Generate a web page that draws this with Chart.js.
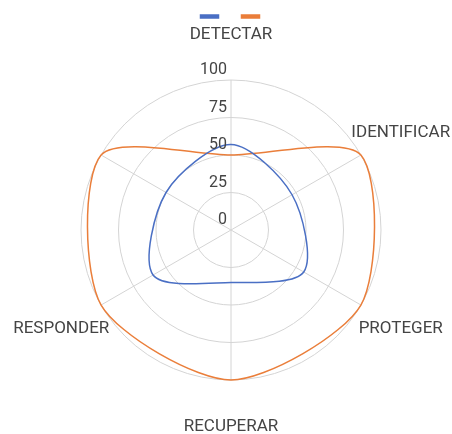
<!DOCTYPE html>
<html>
<head>
<meta charset="utf-8">
<script src="https://cdn.jsdelivr.net/npm/chart.js@4.4.1/dist/chart.umd.min.js"></script>
<style>
    html, body { margin: 0; padding: 0; background: #ffffff; }
    #wrap { width: 452px; height: 434px; }
</style>
</head>
<body>
<div id="wrap"><canvas id="radarChart"></canvas></div>
<script>
// AXES (clockwise from the top, last spoke has no name)
const categories = ["DETECTAR", "IDENTIFICAR", "PROTEGER", "RECUPERAR", "RESPONDER", ""];

// SERIES
const blueValues = [57, 47, 56, 35, 60, 50];
const orangeValues = [50, 100, 100, 100, 100, 100];

// RING TICKS
const tickValues = [0, 25, 50, 75, 100];

const labelColor = "#444444";
const gridColor = "#d4d4d4";

Chart.defaults.font.family = "Roboto";

// Spoke names centred outside the outer ring, tick numbers left of the axis
const outerLabels = {
    id: "outerLabels",
    afterDraw(chart) {
        const r = chart.scales.r;
        const ctx = chart.ctx;
        ctx.save();
        ctx.fillStyle = labelColor;
        ctx.textAlign = "center";
        ctx.textBaseline = "middle";
        ctx.font = "17px Roboto";
        categories.forEach((name, i) => {
            const p = r.getPointPosition(i, r.drawingArea + 46);
            ctx.fillText(name, p.x, p.y + 1);
        });
        ctx.font = "16px Roboto";
        ctx.textAlign = "right";
        r.ticks.forEach((t) => {
            const d = r.getDistanceFromCenterForValue(t.value);
            ctx.fillText(t.label, r.xCenter - 4, r.yCenter - d - 10);
        });
        ctx.restore();
    }
};

const ctx = document.getElementById("radarChart").getContext("2d");
new Chart(ctx, {
    type: "radar",
    data: {
        labels: categories,
        datasets: [{
            label: "",
            data: blueValues,
            borderColor: "#4A6FC4",
            backgroundColor: "#4A6FC4",
            borderWidth: 1.5,
            fill: false,
            pointRadius: 0,
            tension: 0.3,
            clip: false
        }, {
            label: "",
            data: orangeValues,
            borderColor: "#EA7E3A",
            backgroundColor: "#EA7E3A",
            borderWidth: 1.5,
            fill: false,
            pointRadius: 0,
            tension: 0.27,
            clip: false
        }]
    },
    options: {
        responsive: true,
        maintainAspectRatio: false,
        animation: false,
        layout: {
            padding: { left: 81, right: 71, top: -6.5, bottom: 2.5 }
        },
        plugins: {
            legend: {
                position: "top",
                labels: {
                    boxWidth: 18,
                    boxHeight: 3,
                    padding: 21,
                    font: { size: 4 }
                }
            },
            tooltip: { enabled: false }
        },
        scales: {
            r: {
                min: 0,
                max: 100,
                afterBuildTicks: (scale) => {
                    scale.ticks = tickValues.map((v) => ({ value: v }));
                },
                ticks: { display: false },
                pointLabels: { display: false },
                grid: { circular: true, color: gridColor, lineWidth: 1 },
                angleLines: { color: gridColor, lineWidth: 1 }
            }
        }
    },
    plugins: [outerLabels]
});
</script>
</body>
</html>
